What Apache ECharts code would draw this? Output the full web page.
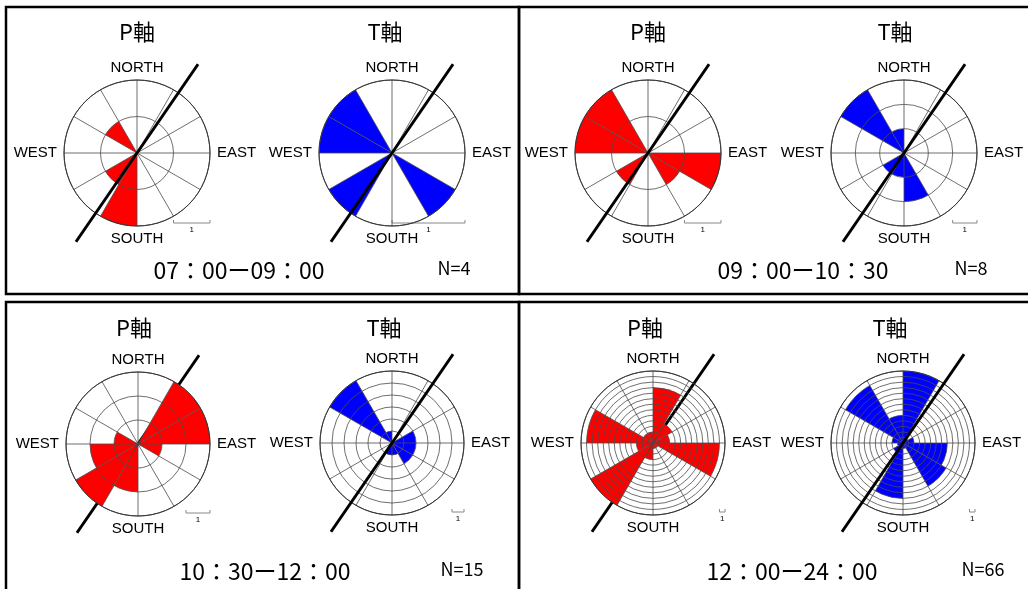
<!DOCTYPE html>
<html>
<head>
<meta charset="utf-8">
<script src="https://cdn.jsdelivr.net/npm/echarts@6/dist/echarts.min.js"></script>
<style>
  html, body { margin: 0; padding: 0; background: #fff; }
  #chart { width: 1028px; height: 589px; }
</style>
</head>
<body>
<div id="chart"></div>
<script>
// 30-degree azimuth bins, clockwise from north
const bins = ['0', '30', '60', '90', '120', '150', '180', '210', '240', '270', '300', '330']

// counts per bin
const p1 = [0, 0, 0, 0, 0, 0, 2, 1, 0, 0, 1, 0]
const t1 = [0, 0, 0, 0, 1, 0, 0, 1, 0, 1, 1, 0]
const p2 = [0, 0, 0, 2, 1, 0, 0, 1, 0, 2, 2, 0]
const t2 = [0, 0, 0, 0, 0, 2, 1, 1, 0, 0, 3, 1]
const p3 = [0, 3, 3, 1, 0, 0, 2, 3, 2, 1, 0, 0]
const t3 = [0, 0, 2, 2, 2, 1, 1, 0, 0, 0, 6, 1]
const p4 = [10, 4, 3, 12, 1, 1, 3, 13, 3, 12, 2, 2]
const t4 = [13, 1, 2, 8, 9, 1, 10, 2, 1, 2, 12, 5]

// outer ring value of each rose
const ringMax = [2, 1, 2, 3, 3, 6, 13, 13]
const timeLabels = ['07：00ー09：00', '09：00ー10：30', '10：30ー12：00', '12：00ー24：00']
const nLabels = ['N=4', 'N=8', 'N=15', 'N=66']
// the thick reference line (azimuth of both ends)
const lineAzimuth = [34.5, 214.5]

const roses = [p1, t1, p2, t2, p3, t3, p4, t4]
const centers = [[137, 153], [392, 153], [648, 153], [904, 153],
                 [138, 444], [392, 443], [653, 443], [903, 443]]
const radii = [73, 73, 73, 73, 72, 72, 72, 72]
const titleX = [137, 385, 648, 895, 134, 384, 645, 890]
// whether the thick line sits under the sectors
const lineBelow = [false, false, false, false, true, false, true, false]
const gridColor = '#4a4a4a'
const latin = '"Liberation Sans", Arial, sans-serif'
const cjk = '"Noto Sans CJK JP", sans-serif'

const chart = echarts.init(document.getElementById('chart'))

const polar = []
const angleAxis = []
const radiusAxis = []
const series = []
const graphic = []

roses.forEach((vals, i) => {
    const c = centers[i]
    const R = radii[i]
    const isP = i % 2 === 0
    polar.push({ center: c, radius: R })
    angleAxis.push({
        polarIndex: i, type: 'category', data: bins, startAngle: 90, clockwise: true,
        z: 5,
        axisLine: { show: true, lineStyle: { color: '#333', width: 1 } },
        axisTick: { show: false }, axisLabel: { show: false },
        splitLine: { show: true, lineStyle: { color: gridColor, width: 0.8 } }
    })
    radiusAxis.push({
        polarIndex: i, type: 'value', min: 0, max: ringMax[i], interval: 1,
        z: 5,
        axisLine: { show: false }, axisTick: { show: false }, axisLabel: { show: false },
        splitLine: { show: true, lineStyle: { color: gridColor, width: 0.8 } }
    })
    series.push({
        type: 'bar', coordinateSystem: 'polar', polarIndex: i,
        data: vals, barCategoryGap: '0%', z: 3,
        itemStyle: { color: isP ? '#ff0000' : '#0000ff' },
        animation: false, silent: true
    })

    // compass labels
    const lab = (text, x, y, align) => graphic.push({
        type: 'text', x: x, y: y, silent: true,
        style: { text: text, font: '15px ' + latin, fill: '#000', align: align, verticalAlign: 'middle' }
    })
    lab('NORTH', c[0], c[1] - R - 12, 'center')
    lab('SOUTH', c[0], c[1] + R + 13, 'center')
    lab('WEST', c[0] - R - 7, c[1], 'right')
    lab('EAST', c[0] + R + 7, c[1], 'left')

    // title
    graphic.push({
        type: 'text', x: titleX[i], y: i < 4 ? 32 : 328, silent: true,
        style: { text: isP ? 'P軸' : 'T軸', font: '22px ' + cjk, fill: '#000', align: 'center', verticalAlign: 'middle' }
    })

    // scale bar: length of one unit, right end at the outer ring
    const unit = R / ringMax[i]
    const by = c[1] + R - 3
    graphic.push({
        type: 'polyline', silent: true,
        shape: { points: [[c[0] + R - unit, by - 3], [c[0] + R - unit, by], [c[0] + R, by], [c[0] + R, by - 3]] },
        style: { stroke: '#888', lineWidth: 1, fill: null }
    })
    graphic.push({
        type: 'text', x: c[0] + R - unit / 2, y: by + 7, silent: true,
        style: { text: '1', font: '8px ' + latin, fill: '#000', align: 'center', verticalAlign: 'middle' }
    })
})

// overlay polars for the thick line
roses.forEach((vals, i) => {
    const k = roses.length + i
    polar.push({ center: centers[i], radius: 108 })
    angleAxis.push({ polarIndex: k, type: 'value', min: 0, max: 360, startAngle: 90, clockwise: true, show: false })
    radiusAxis.push({ polarIndex: k, type: 'value', min: 0, max: 1, show: false })
    series.push({
        type: 'line', coordinateSystem: 'polar', polarIndex: k,
        data: lineAzimuth.map(a => [1, a]), symbol: 'none', z: lineBelow[i] ? 1 : 10,
        lineStyle: { color: '#000', width: 3 }, animation: false, silent: true
    })
})

// panel labels
const panelTimeX = [239, 803, 265, 792]
const panelNX = [454, 971, 462, 983]
const panelY = [270, 270, 571, 571]
timeLabels.forEach((t, j) => {
    graphic.push({
        type: 'text', x: panelTimeX[j], y: panelY[j], silent: true,
        style: { text: t, font: '23px ' + cjk, fill: '#000', align: 'center', verticalAlign: 'middle' }
    })
    graphic.push({
        type: 'text', x: panelNX[j], y: panelY[j] - 2, silent: true,
        style: { text: nLabels[j], font: '18px ' + cjk, fill: '#000', align: 'center', verticalAlign: 'middle' }
    })
})

// panel frames
const frames = [[6, 7, 513, 287], [519, 7, 515, 287], [6, 302, 513, 300], [519, 302, 515, 300]]
frames.forEach(f => graphic.push({
    type: 'rect', silent: true, z: 20,
    shape: { x: f[0], y: f[1], width: f[2], height: f[3] },
    style: { fill: null, stroke: '#000', lineWidth: 2.5 }
}))

chart.setOption({
    animation: false,
    polar: polar,
    angleAxis: angleAxis,
    radiusAxis: radiusAxis,
    series: series,
    graphic: graphic
})
window.addEventListener('resize', () => chart.resize())
</script>
</body>
</html>
